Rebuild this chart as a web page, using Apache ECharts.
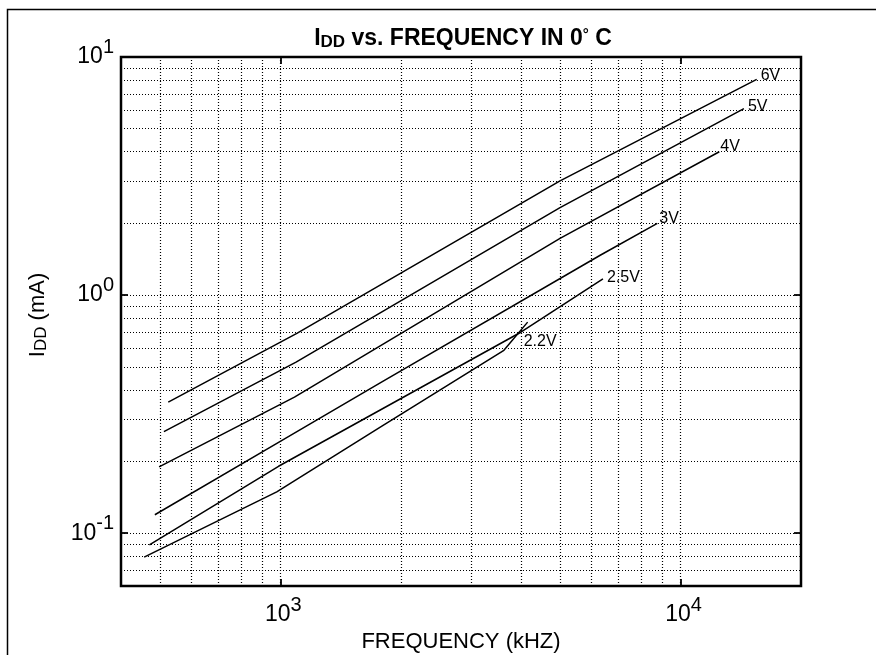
<!DOCTYPE html>
<html>
<head>
<meta charset="utf-8">
<script src="https://cdn.jsdelivr.net/npm/echarts@6/dist/echarts.min.js"></script>
<style>
html,body{margin:0;padding:0;background:#fff;}
#chart{width:876px;height:655px;}
</style>
</head>
<body>
<div id="chart"></div>
<script>
// ---- data (frequency kHz, IDD mA) ----
const seriesNames = ['6V', '5V', '4V', '3V', '2.5V', '2.2V'];
const freq6V  = [525, 1100, 5000, 15500];
const idd6V   = [0.355, 0.69, 3.02, 8.05];
const freq5V  = [512, 1095, 5000, 14400];
const idd5V   = [0.267, 0.523, 2.33, 6.07];
const freq4V  = [498, 1085, 5000, 12500];
const idd4V   = [0.19, 0.373, 1.73, 4.0];
const freq3V  = [486, 1000, 1790, 6300, 8750];
const idd3V   = [0.1195, 0.243, 0.431, 1.47, 2.0];
const freq25V = [471, 990, 4000, 6400];
const idd25V  = [0.0894, 0.191, 0.70, 1.17];
const freq22V = [457, 980, 1790, 3620, 4150];
const idd22V  = [0.0793, 0.149, 0.281, 0.586, 0.77];

// axis ranges and grid values
const xRange = [400, 20000];
const yRange = [0.06, 10];
const xGridValues = [500, 600, 700, 800, 900, 1000, 2000, 3000, 4000, 5000, 6000, 7000, 8000, 9000, 10000];
const yGridValues = [0.07, 0.08, 0.09, 0.1, 0.2, 0.3, 0.4, 0.5, 0.6, 0.7, 0.8, 0.9, 1, 2, 3, 4, 5, 6, 7, 8, 9];

const titleText = '{a|I}{b|DD}{a| vs. FREQUENCY IN 0}{d|°}{a| C}';
const yNameText = '{a|I}{b|DD}{a| (mA)}';
const xNameText = 'FREQUENCY (kHZ)';

const FONT = '"Liberation Sans", Arial, Helvetica, sans-serif';

const allFreq = [freq6V, freq5V, freq4V, freq3V, freq25V, freq22V];
const allIdd  = [idd6V, idd5V, idd4V, idd3V, idd25V, idd22V];
const labelOffsets = [[0, -4], [0, -2], [-3, -5], [-2, -5], [0, -1], [-8, 19]];

function powLabel(v) {
  const e = Math.log10(v);
  const r = Math.round(e);
  if (Math.abs(e - r) > 1e-6) return '';
  return '{b|10}{s|' + r + '}';
}
const powRich = {
  b: { fontSize: 23, lineHeight: 40, fontFamily: FONT, color: '#000' },
  s: { fontSize: 20, lineHeight: 20, verticalAlign: 'top', fontFamily: FONT, color: '#000' }
};

const tickStyle = { show: true, inside: true, length: 7, lineStyle: { color: '#000', width: 1.8 } };

const dotted = { color: '#000', width: 1.2, type: [1, 2] };

const markLineData = xGridValues.map(v => ({ xAxis: v })).concat(yGridValues.map(v => ({ yAxis: v })));

const series = seriesNames.map((name, i) => {
  const s = {
    name: name,
    type: 'line',
    data: allFreq[i].map((f, k) => [f, allIdd[i][k]]),
    showSymbol: false,
    symbol: 'none',
    silent: true,
    lineStyle: { color: '#000', width: 1.5 },
    endLabel: {
      show: true,
      formatter: name,
      color: '#000',
      fontSize: 16,
      fontFamily: FONT,
      distance: 4,
      offset: labelOffsets[i]
    },
    z: 3
  };
  if (i === 0) {
    s.markLine = {
      silent: true,
      symbol: ['none', 'none'],
      label: { show: false },
      lineStyle: dotted,
      emphasis: { disabled: true },
      animation: false,
      data: markLineData
    };
  }
  return s;
});

const chart = echarts.init(document.getElementById('chart'), null, { renderer: 'canvas' });
chart.setOption({
  animation: false,
  backgroundColor: '#fff',
  grid: {
    left: 121, top: 57, right: 75, bottom: 69,
    show: true, borderColor: '#000', borderWidth: 2.5, backgroundColor: 'transparent',
    containLabel: false, outerBoundsMode: 'none'
  },
  xAxis: [
    {
      type: 'log', logBase: 10, min: xRange[0], max: xRange[1], position: 'bottom',
      axisLine: { show: false }, splitLine: { show: false }, minorTick: { show: false },
      axisTick: tickStyle,
      axisLabel: { formatter: powLabel, rich: powRich, margin: 9, padding: [0, 0, 0, 6] },
      name: xNameText, nameLocation: 'middle', nameGap: 37,
      nameTextStyle: { fontSize: 22, fontFamily: FONT, color: '#000' }
    },
    {
      type: 'log', logBase: 10, min: xRange[0], max: xRange[1], position: 'top',
      axisLine: { show: false }, splitLine: { show: false },
      axisTick: tickStyle, axisLabel: { show: false }
    }
  ],
  yAxis: [
    {
      type: 'log', logBase: 10, min: yRange[0], max: yRange[1], position: 'left',
      axisLine: { show: false }, splitLine: { show: false }, minorTick: { show: false },
      axisTick: tickStyle,
      axisLabel: { formatter: powLabel, rich: powRich, margin: 7 }
    },
    {
      type: 'log', logBase: 10, min: yRange[0], max: yRange[1], position: 'right',
      axisLine: { show: false }, splitLine: { show: false },
      axisTick: tickStyle, axisLabel: { show: false }
    }
  ],
  graphic: [
    {
      type: 'polyline', silent: true,
      shape: { points: [[7.5, 655], [7.5, 9.5], [876, 9.5]] },
      style: { stroke: '#000', lineWidth: 1.5, fill: null }
    },
    {
      type: 'text', x: 463, y: 39, silent: true,
      style: {
        text: titleText, align: 'center', verticalAlign: 'middle',
        rich: {
          a: { fontSize: 23, lineHeight: 24, fontWeight: 'bold', fontFamily: FONT, fill: '#000' },
          b: { fontSize: 17, lineHeight: 17, fontWeight: 'bold', verticalAlign: 'bottom', fontFamily: FONT, fill: '#000' },
          d: { fontSize: 15, lineHeight: 15, fontWeight: 'bold', verticalAlign: 'top', fontFamily: FONT, fill: '#000' }
        }
      }
    },
    {
      type: 'text', x: 38, y: 315, rotation: Math.PI / 2, silent: true,
      style: {
        text: yNameText, align: 'center', verticalAlign: 'middle',
        rich: {
          a: { fontSize: 22, lineHeight: 24, fontFamily: FONT, fill: '#000' },
          b: { fontSize: 17, lineHeight: 17, verticalAlign: 'bottom', fontFamily: FONT, fill: '#000' }
        }
      }
    }
  ],
  series: series
});
</script>
</body>
</html>
